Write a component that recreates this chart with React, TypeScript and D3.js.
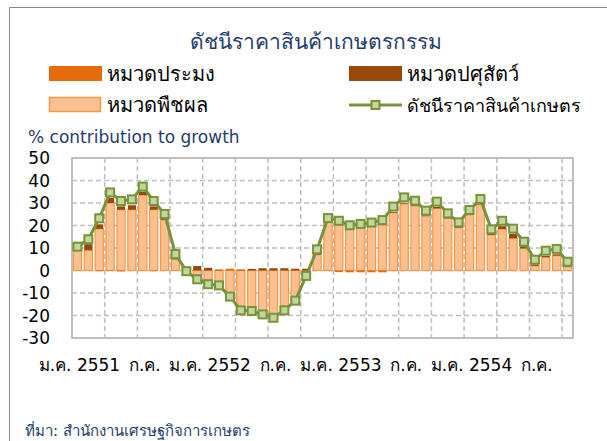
import React, { useRef, useEffect } from "react";
import * as d3 from "d3";

// month names (Thai abbreviations) and years, Jan 2551 .. Oct 2554
const monthNames = ["ม.ค.", "ก.พ.", "มี.ค.", "เม.ย.", "พ.ค.", "มิ.ย.", "ก.ค.", "ส.ค.", "ก.ย.", "ต.ค.", "พ.ย.", "ธ.ค."];
const years = ["2551", "2552", "2553", "2554"];
const monthCount = 46;

// x tick labels shown every 6 months
const tickLabels = ["ม.ค. 2551", "ก.ค.", "ม.ค. 2552", "ก.ค.", "ม.ค. 2553", "ก.ค.", "ม.ค. 2554", "ก.ค."];
const yTicks = [50, 40, 30, 20, 10, 0, -10, -20, -30];

// หมวดพืชผล (crops)
const crops = [
  9, 9, 18.5, 30, 27, 27, 33.5, 27, 22.5, 5, -0.5, -2,
  -4.3, -6.4, -10.9, -16.8, -16.8, -18.6, -19.8, -17.6, -12.4, -1.7, 7, 21.7,
  20.2, 18.3, 19.5, 19.8, 20.2, 25.7, 29.6, 28.7, 24.2, 27.6, 23.2, 19,
  24.7, 29.4, 15.8, 18.4, 14.3, 9.8, 2.1, 5.9, 6.6, 1.7,
];
// หมวดปศุสัตว์ (livestock)
const livestock = [
  1.5, 2.7, 2, 2.3, 1.5, 2, 1.5, 1.5, 1, 1, 1.5, 2,
  1.2, 0.3, 0, 0.2, 0.7, 1, 1, 1, 0.8, 0.8, 0.3, 0.3,
  0.2, 0.2, 0.2, 0.2, 0.2, 0.3, 0.3, 0.3, 0.3, 0.7, 0.3, 0.3,
  0.3, 0.3, 0.7, 1.3, 1.9, 1, 0.6, 0.6, 0.6, 0.3,
];
// หมวดประมง (fisheries)
const fisheries = [
  0, 0, -0.3, -0.2, -0.4, 0, 0, -0.3, 0, 0, 0, 0,
  0, 0.2, 0.8, 0.3, 0, 0, 0, 0, 0, 0, 0, 0,
  -0.7, -0.8, -0.8, -0.8, -0.8, 0, 0, 0, 0, 0, 0, 0,
  0, 0, 0, 0, 0, 0, 0, 0, 0, 0,
];
// ดัชนีราคาสินค้าเกษตร (index)
const priceIndex = [
  10.6, 13.9, 23.2, 34.7, 30.9, 31.6, 37.3, 30.9, 25.1, 7.3, -0.3, -3.9,
  -6.1, -6.6, -11.6, -17.7, -18, -19.5, -21, -17.7, -13.4, -2.4, 9.4, 23.3,
  22.1, 20.1, 20.7, 21.3, 22.4, 28.4, 32.5, 31, 26.6, 30.6, 25.4, 21.4,
  26.9, 31.8, 18.3, 22.1, 18.6, 12.8, 4.8, 8.8, 9.6, 3.9,
];

const months = d3.range(monthCount).map(i => `${monthNames[i % 12]} ${years[Math.floor(i / 12)]}`);

const thaiFont = "Tahoma, 'DejaVu Sans', sans-serif";

export default function App() {
  const svgRef = useRef<SVGSVGElement>(null);
  const width = 607;
  const height = 441;

  useEffect(() => {
    const svg = d3.select(svgRef.current);
    svg.selectAll("*").remove();

    const plot = { left: 72, right: 573, top: 158, bottom: 338 };

    const x = d3.scaleBand<string>()
      .domain(months)
      .range([plot.left, plot.right])
      .paddingInner(0.25)
      .paddingOuter(0.125);
    const step = x.step();

    const y = d3.scaleLinear().domain([-30, 50]).range([plot.bottom, plot.top]);

    // outer chart frame
    svg.append("path")
      .attr("d", `M9.5,${height} V7.5 H${width}`)
      .attr("fill", "none")
      .attr("stroke", "#868686")
      .attr("stroke-width", 1);

    // title
    svg.append("text")
      .attr("x", 316)
      .attr("y", 49)
      .attr("text-anchor", "middle")
      .style("font-family", thaiFont)
      .style("font-size", "21px")
      .style("fill", "#1F3D6B")
      .text("ดัชนีราคาสินค้าเกษตรกรรม");

    // legend
    const legendItems = [
      { label: "หมวดประมง", x: 49, y: 66, type: "fish" },
      { label: "หมวดปศุสัตว์", x: 349, y: 66, type: "live" },
      { label: "หมวดพืชผล", x: 49, y: 97, type: "crop" },
      { label: "ดัชนีราคาสินค้าเกษตร", x: 349, y: 97, type: "line" },
    ];
    legendItems.forEach(it => {
      if (it.type === "line") {
        svg.append("line")
          .attr("x1", it.x).attr("x2", it.x + 53)
          .attr("y1", it.y + 8).attr("y2", it.y + 8)
          .attr("stroke", "#77933C").attr("stroke-width", 3);
        svg.append("rect")
          .attr("x", it.x + 22.5).attr("y", it.y + 4)
          .attr("width", 8).attr("height", 8)
          .attr("fill", "#C3D69B").attr("stroke", "#77933C").attr("stroke-width", 2);
      } else {
        svg.append("rect")
          .attr("x", it.type === "crop" ? it.x + 0.5 : it.x)
          .attr("y", it.type === "crop" ? it.y + 0.5 : it.y)
          .attr("width", it.type === "crop" ? 51 : 53)
          .attr("height", it.type === "crop" ? 14 : 15)
          .attr("fill", it.type === "fish" ? "#E46C0A" : it.type === "live" ? "#984807" : "#FAC090")
          .attr("stroke", it.type === "crop" ? "#F79646" : "none")
          .attr("stroke-width", 1.5);
      }
      svg.append("text")
        .attr("x", it.x + 58)
        .attr("y", it.y + 15)
        .style("font-family", thaiFont)
        .style("font-size", it.type === "line" ? "18px" : "20px")
        .style("fill", "#000")
        .text(it.label);
    });

    // y axis title
    svg.append("text")
      .attr("x", 28)
      .attr("y", 143)
      .style("font-family", thaiFont)
      .style("font-size", "17px")
      .style("fill", "#1F3D6B")
      .text("% contribution to growth");

    // horizontal grid
    svg.append("g")
      .selectAll("line")
      .data(yTicks.filter(t => t !== 50 && t !== -30))
      .enter()
      .append("line")
      .attr("x1", plot.left).attr("x2", plot.right)
      .attr("y1", d => y(d)).attr("y2", d => y(d))
      .attr("stroke", "#BFBFBF")
      .attr("stroke-width", 1.5)
      .attr("stroke-dasharray", "5,3");

    // vertical grid every 3 months
    const vIdx = d3.range(3, monthCount, 3);
    svg.append("g")
      .selectAll("line")
      .data(vIdx)
      .enter()
      .append("line")
      .attr("x1", d => (x(months[d]) as number) - (step - x.bandwidth()) / 2)
      .attr("x2", d => (x(months[d]) as number) - (step - x.bandwidth()) / 2)
      .attr("y1", plot.top).attr("y2", plot.bottom)
      .attr("stroke", "#BFBFBF")
      .attr("stroke-width", 1.5)
      .attr("stroke-dasharray", "5,3");

    // stacked bars
    const table = months.map((m, i) => ({ month: m, crops: crops[i], livestock: livestock[i], fisheries: fisheries[i] }));
    const keys = ["crops", "livestock", "fisheries"];
    const colors: Record<string, string> = { crops: "#FAC090", livestock: "#984807", fisheries: "#E46C0A" };
    const series = d3.stack<any>().keys(keys).offset(d3.stackOffsetDiverging)(table);

    svg.append("g")
      .selectAll("g")
      .data(series)
      .enter()
      .append("g")
      .attr("fill", d => colors[d.key])
      .attr("stroke", d => (d.key === "crops" ? "#F79646" : "none"))
      .attr("stroke-width", 1.2)
      .selectAll("rect")
      .data(d => d.map(v => ({ v, key: d.key })))
      .enter()
      .append("rect")
      .attr("x", d => x(d.v.data.month) as number)
      .attr("width", x.bandwidth())
      .attr("y", d => y(Math.max(d.v[0], d.v[1])))
      .attr("height", d => Math.abs(y(d.v[0]) - y(d.v[1])));

    // plot border
    svg.append("rect")
      .attr("x", plot.left).attr("y", plot.top)
      .attr("width", plot.right - plot.left).attr("height", plot.bottom - plot.top)
      .attr("fill", "none")
      .attr("stroke", "#BFBFBF")
      .attr("stroke-width", 2);

    // index line
    const line = d3.line<number>()
      .x((_, i) => (x(months[i]) as number) + x.bandwidth() / 2)
      .y(d => y(d));
    svg.append("path")
      .datum(priceIndex)
      .attr("d", line)
      .attr("fill", "none")
      .attr("stroke", "#77933C")
      .attr("stroke-width", 3)
      .attr("stroke-linejoin", "round");

    svg.append("g")
      .selectAll("rect")
      .data(priceIndex)
      .enter()
      .append("rect")
      .attr("x", (_, i) => (x(months[i]) as number) + x.bandwidth() / 2 - 4)
      .attr("y", d => y(d) - 4)
      .attr("width", 8).attr("height", 8)
      .attr("fill", "#C3D69B")
      .attr("stroke", "#77933C")
      .attr("stroke-width", 2);

    // y tick labels
    svg.append("g")
      .selectAll("text")
      .data(yTicks)
      .enter()
      .append("text")
      .attr("x", 50)
      .attr("y", d => y(d))
      .attr("dy", "0.36em")
      .attr("text-anchor", "end")
      .style("font-family", thaiFont)
      .style("font-size", "17px")
      .style("fill", "#000")
      .text(d => d);

    // x tick labels every 6 months
    svg.append("g")
      .selectAll("text")
      .data(tickLabels)
      .enter()
      .append("text")
      .attr("x", (_, i) => (x(months[i * 6]) as number) + x.bandwidth() / 2 + 2)
      .attr("y", 371)
      .attr("text-anchor", "middle")
      .style("font-family", thaiFont)
      .style("font-size", "17px")
      .style("fill", "#000")
      .text(d => d);

    // source
    svg.append("text")
      .attr("x", 25)
      .attr("y", 436)
      .style("font-family", thaiFont)
      .style("font-size", "15px")
      .style("fill", "#1F3D6B")
      .text("ที่มา: สำนักงานเศรษฐกิจการเกษตร");
  }, []);

  return (
    <svg
      ref={svgRef}
      width={width}
      height={height}
      style={{ position: "absolute", left: 0, top: 0, display: "block", background: "#fff" }}
    />
  );
}
